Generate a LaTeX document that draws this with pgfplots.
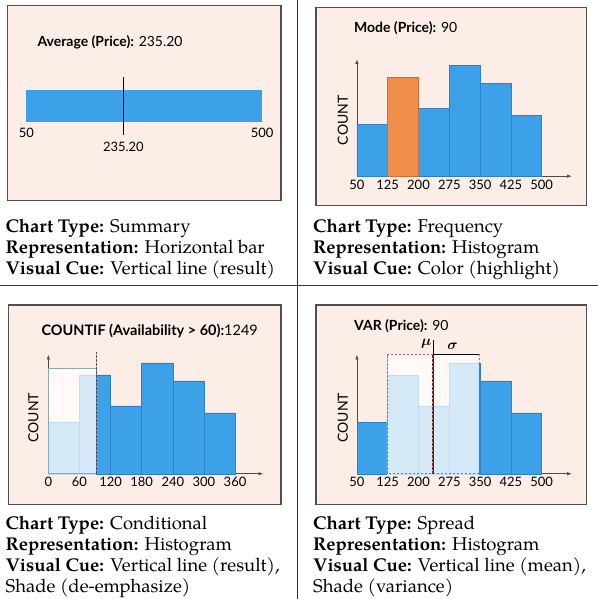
\documentclass[border=0pt]{standalone}
\usepackage{amsmath}
\usepackage{pgfplots}
\pgfplotsset{compat=1.18}
\usetikzlibrary{arrows.meta}
\usepackage{fontspec}
\setmainfont{TeX Gyre Pagella}
\newfontfamily\gill{Lato}
\definecolor{panelbg}{HTML}{FCEEE7}
\definecolor{panelfr}{HTML}{505050}
\definecolor{barblue}{HTML}{3DA1EA}
\definecolor{bardraw}{HTML}{2D80C2}
\definecolor{barorange}{HTML}{EF8D4B}
\definecolor{orangedraw}{HTML}{C86F34}
\definecolor{lightblue}{HTML}{D5E9F7}
\definecolor{lightdraw}{HTML}{C4DCEF}
\definecolor{shadewhite}{HTML}{FFF9F7}
\definecolor{shadefr}{HTML}{8DA5BF}
\definecolor{redbox}{HTML}{DA5A55}
\definecolor{meanred}{HTML}{A01212}
\pgfplotsset{
  hist/.style={scale only axis, axis lines=left, clip=false, ymin=0, ytick=\empty,
    anchor=south west, width=215pt,
    axis line style={draw=black!70, line width=0.6pt, -{Latex[length=4.5pt,width=3.5pt]}},
    major tick length=0pt,
    /pgf/number format/assume math mode=true,
    tick label style={font=\gill\fontsize{13}{13}\selectfont},
    xticklabel style={yshift=0pt}},
  bluebar/.style={ybar interval, fill=barblue, draw=bardraw, line width=0.5pt},
  lightbar/.style={ybar interval, fill=lightblue, draw=lightdraw, line width=0.5pt},
}
\newcommand\capt[1]{\fontsize{18.5}{21}\selectfont #1}
\newcommand\ttl{\gill\fontsize{14}{14}\selectfont}
\begin{document}
\begin{tikzpicture}[x=1pt,y=1pt]
\path (0,0) rectangle (598,599);
% dividers
\draw[black!80, line width=0.8pt] (297,0) -- (297,599);
\draw[black!80, line width=0.8pt] (0,314) -- (598,314);
% panel boxes
\foreach \a/\b/\c/\d in {7/399/281/594, 316/394/587/592, 8/94/281/294, 316/94/587/294}
  \draw[fill=panelbg, draw=panelfr, line width=1.2pt] (\a,\b) rectangle (\c,\d);
% captions
\node[anchor=base west, inner sep=0pt] at (5,367) {\capt{\textbf{Chart Type:} Summary}};
\node[anchor=base west, inner sep=0pt] at (5,346) {\capt{\textbf{Representation:} Horizontal bar}};
\node[anchor=base west, inner sep=0pt] at (5,325) {\capt{\textbf{Visual Cue:} Vertical line (result)}};
\node[anchor=base west, inner sep=0pt] at (313,367) {\capt{\textbf{Chart Type:} Frequency}};
\node[anchor=base west, inner sep=0pt] at (313,346) {\capt{\textbf{Representation:} Histogram}};
\node[anchor=base west, inner sep=0pt] at (313,325) {\capt{\textbf{Visual Cue:} Color (highlight)}};
\node[anchor=base west, inner sep=0pt] at (5,69) {\capt{\textbf{Chart Type:} Conditional}};
\node[anchor=base west, inner sep=0pt] at (5,48) {\capt{\textbf{Representation:} Histogram}};
\node[anchor=base west, inner sep=0pt] at (5,27) {\capt{\textbf{Visual Cue:} Vertical line (result),}};
\node[anchor=base west, inner sep=0pt] at (5,6) {\capt{Shade (de-emphasize)}};
\node[anchor=base west, inner sep=0pt] at (313,69) {\capt{\textbf{Chart Type:} Spread}};
\node[anchor=base west, inner sep=0pt] at (313,48) {\capt{\textbf{Representation:} Histogram}};
\node[anchor=base west, inner sep=0pt] at (313,27) {\capt{\textbf{Visual Cue:} Vertical line (mean),}};
\node[anchor=base west, inner sep=0pt] at (313,6) {\capt{Shade (variance)}};
% titles
\node[anchor=west, inner sep=0pt, font=\ttl] at (37,557) {\textbf{Average (Price):} 235.20};
\node[anchor=west, inner sep=0pt, font=\ttl] at (354,571) {\textbf{Mode (Price):} 90};
\node[anchor=west, inner sep=0pt, font=\gill\fontsize{14.5}{15}\selectfont] at (41,268) {\textbf{COUNTIF (Availability > 60):}1249};
\node[anchor=west, inner sep=0pt, font=\ttl] at (354,273) {\textbf{VAR (Price):} 90};
% COUNT labels
\foreach \p in {(343,479),(33,181),(343,181)}
  \node[rotate=90, inner sep=0pt, font=\gill\fontsize{14}{14}\selectfont] at \p {COUNT};

% ---- Panel 1: summary bar
\begin{axis}[at={(26pt,477pt)}, anchor=south west, scale only axis, hide axis, clip=false,
  width=236pt, height=32pt, xmin=50, xmax=500, ymin=0, ymax=1]
\addplot[ybar interval, fill=barblue, draw=none] coordinates {(50,1) (500,0)};
\addplot[black, line width=1.2pt] coordinates {(235.2,-0.41) (235.2,1.41)};
\node[font=\gill\fontsize{13}{13}\selectfont] at (axis cs:50,-0.34) {50};
\node[font=\gill\fontsize{13}{13}\selectfont] at (axis cs:500,-0.34) {500};
\node[font=\gill\fontsize{13}{13}\selectfont] at (axis cs:235.2,-0.78) {235.20};
\end{axis}

% ---- Panel 2: mode histogram
\begin{axis}[hist, at={(357pt,423pt)}, height=117pt, xmin=50, xmax=573, ymax=117,
  xtick={50,125,200,275,350,425,500}]
\addplot[bluebar] coordinates {(50,52) (125,99) (200,68) (275,111) (350,93) (425,61) (500,0)};
\addplot[ybar interval, fill=barorange, draw=orangedraw, line width=0.5pt] coordinates {(125,99) (200,0)};
\end{axis}

% ---- Panel 3: countif histogram
\begin{axis}[hist, at={(48pt,125pt)}, height=119pt, xmin=0, xmax=414, ymax=119,
  xtick={0,60,120,180,240,300,360}]
\fill[shadewhite] (axis cs:0,0) rectangle (axis cs:92,106);
\addplot[lightbar] coordinates {(0,52) (60,99) (92,0)};
\addplot[bluebar] coordinates {(92,99) (120,68) (180,111) (240,93) (300,61) (360,0)};
\draw[shadefr, line width=0.8pt] (axis cs:0,0) rectangle (axis cs:92,106);
\draw[black!70, line width=0.8pt, dash pattern=on 2.5pt off 1.5pt] (axis cs:92,0) -- (axis cs:92,122);
\end{axis}

% ---- Panel 4: variance histogram
\begin{axis}[hist, at={(357pt,125pt)}, height=119pt, xmin=50, xmax=573, ymax=119,
  xtick={50,125,200,275,350,425,500}]
\fill[shadewhite] (axis cs:123.2,0) rectangle (axis cs:347.2,120);
\addplot[bluebar] coordinates {(50,52) (123.2,0)};
\addplot[lightbar] coordinates {(123.2,52) (125,99) (200,68) (275,111) (347.2,0)};
\addplot[bluebar] coordinates {(347.2,111) (350,93) (425,61) (500,0)};
\draw[redbox, line width=0.8pt, dash pattern=on 2.5pt off 1.5pt] (axis cs:123.2,0) rectangle (axis cs:347.2,120);
\draw[black, line width=0.7pt] (axis cs:235.2,0) -- (axis cs:235.2,134);
\draw[meanred, line width=1.3pt, dash pattern=on 3pt off 1pt] (axis cs:235.2,0) -- (axis cs:235.2,120);
\draw[black, line width=0.8pt] (axis cs:235.2,120) -- (axis cs:347.2,120);
\node[anchor=east, inner sep=1.5pt, font=\fontsize{14}{14}\selectfont] at (axis cs:235.2,130) {$\boldsymbol{\mu}$};
\node[font=\fontsize{14}{14}\selectfont] at (axis cs:283,128) {$\boldsymbol{\sigma}$};
\end{axis}
\end{tikzpicture}
\end{document}
